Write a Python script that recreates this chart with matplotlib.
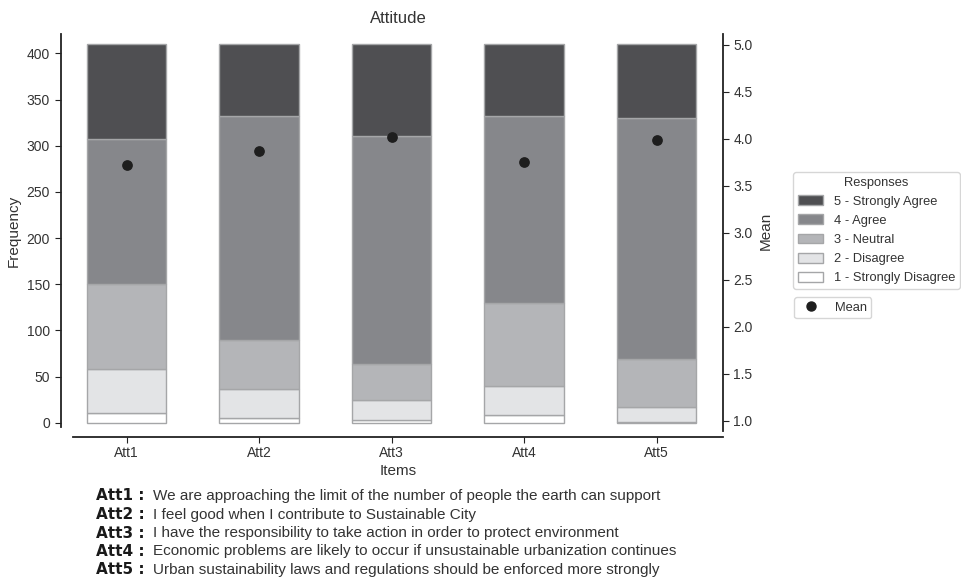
import matplotlib
matplotlib.use("Agg")
import matplotlib.pyplot as plt
import numpy as np
from matplotlib.patches import Patch
from matplotlib.lines import Line2D

plt.rcParams["font.family"] = ["Liberation Sans", "DejaVu Sans"]

items = ["Att1", "Att2", "Att3", "Att4", "Att5"]
strongly_disagree = [10, 5, 3, 8, 1]
disagree = [48, 32, 22, 32, 16]
neutral = [92, 52, 39, 90, 52]
agree = [157, 243, 246, 202, 261]
strongly_agree = [103, 78, 100, 78, 80]
means = [3.72, 3.87, 4.02, 3.755, 3.985]

labels = ["1 - Strongly Disagree", "2 - Disagree", "3 - Neutral",
          "4 - Agree", "5 - Strongly Agree"]
colours = ["#ffffff", "#e3e4e6", "#b4b5b8", "#86878b", "#4f4f52"]

descriptions = [
    "We are approaching the limit of the number of people the earth can support",
    "I feel good when I contribute to Sustainable City",
    "I have the responsibility to take action in order to protect environment",
    "Economic problems are likely to occur if unsustainable urbanization continues",
    "Urban sustainability laws and regulations should be enforced more strongly",
]

W, H = 961, 584
fig = plt.figure(figsize=(W / 100, H / 100), dpi=100)
ax = fig.add_axes([73 / W, 1 - 427 / H, 650 / W, 393 / H])
text_c = "#333333"

x = np.arange(len(items))
bottom = np.zeros(len(items))
series = [strongly_disagree, disagree, neutral, agree, strongly_agree]
for vals, lab, col in zip(series, labels, colours):
    ax.bar(x, vals, bottom=bottom, width=0.6, color=col, edgecolor="#a5a6a8",
           linewidth=1.0, label=lab)
    bottom += np.array(vals)

ax.set_xlim(-0.405, 4.5)
ax.set_ylim(-4.7, 421)
ax.set_yticks(range(0, 401, 50))
ax.set_xticks(x)
ax.set_xticklabels(items)
ax.spines["top"].set_visible(False)
ax.spines["right"].set_visible(False)
ax.spines["left"].set_position(("outward", 9))
ax.spines["bottom"].set_position(("outward", 7.5))
for sp in ("left", "bottom"):
    ax.spines[sp].set_color("#222222")
    ax.spines[sp].set_linewidth(1.3)
ax.tick_params(colors="#222222", labelcolor=text_c, labelsize=10, length=4)
ax.tick_params(axis="x", pad=2)
ax.set_ylabel("Frequency", fontsize=11, color=text_c)
ax.set_xlabel("Items", fontsize=11, color=text_c, labelpad=3)
ax.set_title("Attitude", fontsize=12, color=text_c, pad=8)

ax2 = ax.twinx()
ax2.scatter(x, means, s=45, color="#1e1e1e", zorder=5, label="Mean")
ax2.set_ylim(1 - 6.3 / 94, 5 + 10.7 / 94)
ax2.set_yticks(np.arange(1.0, 5.01, 0.5))
ax2.set_yticklabels([f"{v:.1f}" for v in np.arange(1.0, 5.01, 0.5)])
for sp in ("top", "left", "bottom"):
    ax2.spines[sp].set_visible(False)
ax2.spines["right"].set_color("#222222")
ax2.spines["right"].set_linewidth(1.3)
ax2.spines["right"].set_bounds(1 - 10.0 / 94, 5 + 10.7 / 94)
ax2.tick_params(colors="#222222", labelcolor=text_c, labelsize=10, length=4)
ax2.set_ylabel("Mean", fontsize=11, color=text_c, labelpad=4)

handles = [Patch(facecolor=c, edgecolor="#a5a6a8", label=l)
           for c, l in zip(colours[::-1], labels[::-1])]
leg1 = fig.legend(handles=handles, title="Responses", loc="upper left",
                  bbox_to_anchor=(793 / W, 1 - 172 / H), fontsize=9.3,
                  title_fontsize=9.3, frameon=True, labelspacing=0.52,
                  handlelength=2.0, handleheight=0.8, handletextpad=0.8,
                  borderpad=0.35, borderaxespad=0.0)
leg1.get_frame().set_edgecolor("#cccccc")
for t in leg1.get_texts():
    t.set_color(text_c)
leg1.get_title().set_color(text_c)

mean_handle = Line2D([], [], marker="o", linestyle="", color="#1e1e1e",
                     markersize=6.5, label="Mean")
leg2 = fig.legend(handles=[mean_handle], loc="upper left",
                  bbox_to_anchor=(794 / W, 1 - 297 / H), fontsize=9.3,
                  frameon=True, handlelength=2.0, handletextpad=0.8,
                  borderpad=0.35, borderaxespad=0.0)
leg2.get_frame().set_edgecolor("#cccccc")
for t in leg2.get_texts():
    t.set_color(text_c)

for i, (name, desc) in enumerate(zip(items, descriptions)):
    yy = 1 - (496 + i * 18.5) / H
    fig.text(96 / W, yy, f"{name} :", fontsize=11, fontweight="bold",
             family="DejaVu Sans", color="#1a1a1a", va="center")
    fig.text(153 / W, yy, desc, fontsize=11, color=text_c, va="center")

fig.savefig("out.png", dpi=100)
